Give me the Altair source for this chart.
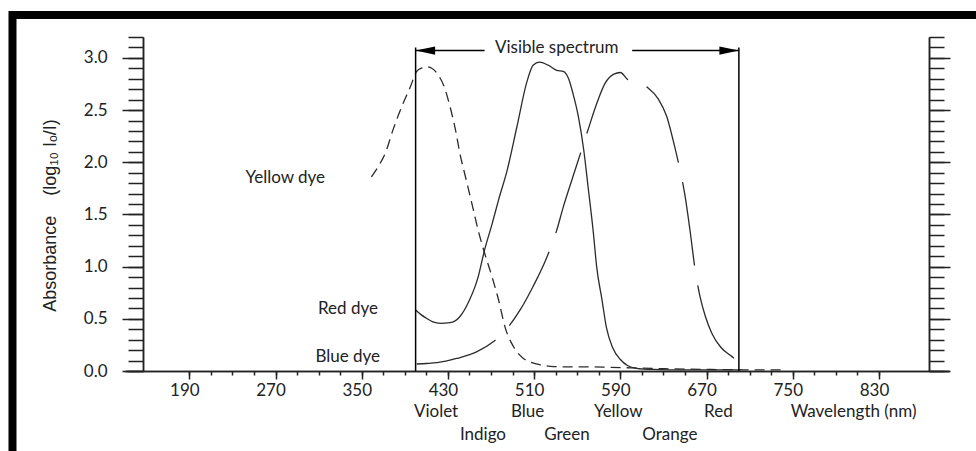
import altair as alt
import pandas as pd

# Absorbance (log10 Io/I) of the three dyes against wavelength (nm)
yellow_nm = [359, 366, 372, 379, 387, 395, 401, 406, 410, 415, 420, 427, 432, 437, 441, 447,
             453, 458, 464, 471, 477, 483, 491, 500, 508, 515, 525, 540, 560, 580, 600, 620,
             640, 670, 700, 720, 740]
yellow_abs = [1.86, 1.97, 2.09, 2.31, 2.53, 2.72, 2.87, 2.905, 2.915, 2.90, 2.85, 2.71, 2.53,
              2.31, 2.09, 1.83, 1.57, 1.35, 1.13, 0.90, 0.68, 0.42, 0.23, 0.12, 0.08, 0.06,
              0.045, 0.04, 0.04, 0.035, 0.03, 0.025, 0.02, 0.015, 0.012, 0.01, 0.01]

red_nm = [400, 405, 410, 416, 423, 432, 441, 450, 458, 464, 471, 477, 485, 494, 503, 509, 515,
          523, 531, 537, 542, 546, 551, 556, 560, 565, 568, 573, 577, 583, 590, 597, 605, 620,
          650, 700]
red_abs = [0.585, 0.54, 0.505, 0.47, 0.457, 0.463, 0.52, 0.68, 0.90, 1.16, 1.41, 1.64, 1.925,
           2.34, 2.76, 2.93, 2.96, 2.93, 2.88, 2.87, 2.80, 2.66, 2.44, 2.12, 1.77, 1.32, 1.0,
           0.68, 0.42, 0.22, 0.11, 0.05, 0.026, 0.015, 0.01, 0.01]

blue_nm = [401, 410, 420, 438, 457, 472, 485, 497, 509, 522, 531, 537, 545, 553, 560, 568, 576,
           584, 590, 597, 605, 616, 625, 633, 639, 644, 650, 655, 659, 664, 669, 675, 683, 692,
           700]
blue_abs = [0.067, 0.072, 0.08, 0.12, 0.185, 0.28, 0.41, 0.585, 0.81, 1.095, 1.35, 1.57, 1.83,
            2.085, 2.31, 2.56, 2.76, 2.845, 2.86, 2.79, 2.76, 2.71, 2.61, 2.44, 2.21, 1.99, 1.68,
            1.32, 1.0, 0.71, 0.52, 0.36, 0.23, 0.15, 0.09]

# Curve labels
dye_names = ["Yellow dye", "Red dye", "Blue dye"]
dye_label_nm = [316, 365, 367]
dye_label_abs = [1.85, 0.594, 0.134]

# Colour names printed under the wavelength axis (two staggered rows)
band_top_names = ["Violet", "Blue", "Yellow", "Red"]
band_top_nm = [419, 504, 588, 681]
band_bottom_names = ["Indigo", "Green", "Orange"]
band_bottom_nm = [462.5, 540.5, 636]
x_title = "Wavelength (nm)"
x_title_nm = 806.4

# Visible spectrum bracket
visible_nm = [400, 700]
visible_top = 3.1
arrow_abs = 3.07
arrow_segments_start = [400, 601]
arrow_segments_end = [464, 700]
visible_label = "Visible spectrum"
visible_label_nm = 531

# Tick positions
x_major = list(range(190, 831, 80))
x_minor = list(range(190, 831, 20))
y_major = [0.0, 0.5, 1.0, 1.5, 2.0, 2.5, 3.0]
y_minor = [round(0.1 * i, 1) for i in range(33)]

FONT = "Lato"
TITLE_FONT = "Liberation Sans"
FS = 17
INK = "#222222"
CURVE = "#2b2b2b"
NBSP = "\u00a0"

xs = alt.Scale(domain=[130.3, 895.0], nice=False, zero=False)
ys = alt.Scale(domain=[0, 3.2], nice=False, zero=False)

common_axis = dict(domainColor=INK, domainWidth=1.5, tickColor=INK, tickWidth=1.5, grid=False)

x_axis_major = alt.Axis(orient="bottom", values=x_major, tickSize=8, labelPadding=3,
                        labelOffset=-5, labelFont=FONT, labelFontSize=FS, labelColor=INK,
                        title=None, **common_axis)
x_axis_minor = alt.Axis(orient="bottom", values=x_minor, tickSize=4, labels=False, title=None,
                        **common_axis)
y_axis_left_major = alt.Axis(orient="left", offset=-18, values=y_major, format=".1f",
                             tickSize=21, labelPadding=15, labelFont=FONT, labelFontSize=FS,
                             labelColor=INK,
                             title="Absorbance" + NBSP * 4 + "(log\u2081\u2080 I\u2092/I)",
                             titleFont=TITLE_FONT, titleFontSize=18, titleFontWeight="normal",
                             titleColor=INK, titlePadding=24, titleY=178, **common_axis)
y_axis_left_minor = alt.Axis(orient="left", offset=-18, values=y_minor, tickSize=15,
                             labels=False, title=None, **common_axis)
y_axis_right_major = alt.Axis(orient="right", offset=-20, values=y_major, tickSize=21,
                              labels=False, title=None, **common_axis)
y_axis_right_minor = alt.Axis(orient="right", offset=-20, values=y_minor, tickSize=15,
                              labels=False, title=None, **common_axis)

yellow_df = pd.DataFrame({"nm": yellow_nm, "absorbance": yellow_abs})
red_df = pd.DataFrame({"nm": red_nm, "absorbance": red_abs})
blue_df = pd.DataFrame({"nm": blue_nm, "absorbance": blue_abs})

yellow_line = alt.Chart(yellow_df).mark_line(
    color=CURVE, strokeWidth=1.3, strokeDash=[10, 6], interpolate="monotone"
).encode(
    x=alt.X("nm:Q", scale=xs, axis=x_axis_major),
    y=alt.Y("absorbance:Q", scale=ys, axis=y_axis_left_major),
)

red_line = alt.Chart(red_df).mark_line(
    color=CURVE, strokeWidth=1.3, interpolate="monotone"
).encode(
    x=alt.X("nm:Q", scale=xs, axis=x_axis_minor),
    y=alt.Y("absorbance:Q", scale=ys, axis=y_axis_left_minor),
)

blue_line = alt.Chart(blue_df).mark_line(
    color=CURVE, strokeWidth=1.3, strokeDash=[84, 20], interpolate="monotone"
).encode(
    x=alt.X("nm:Q", scale=xs, axis=None),
    y=alt.Y("absorbance:Q", scale=ys, axis=y_axis_right_major),
)

visible_df = pd.DataFrame({"nm": visible_nm, "lo": [0.0, 0.0], "hi": [visible_top] * 2})
visible_rules = alt.Chart(visible_df).mark_rule(color="black", strokeWidth=1.5).encode(
    x=alt.X("nm:Q", scale=xs, axis=None),
    y=alt.Y("lo:Q", scale=ys, axis=y_axis_right_minor),
    y2="hi:Q",
)

arrow_df = pd.DataFrame({"start": arrow_segments_start, "end": arrow_segments_end,
                         "a": [arrow_abs] * 2})
arrow_lines = alt.Chart(arrow_df).mark_rule(color="black", strokeWidth=1.5).encode(
    x=alt.X("start:Q", scale=xs, axis=None),
    x2="end:Q",
    y=alt.Y("a:Q", scale=ys, axis=None),
)

head_df = pd.DataFrame({"nm": visible_nm, "a": [arrow_abs] * 2, "dir": ["left", "right"]})
arrow_heads = alt.Chart(head_df).mark_point(filled=True, opacity=1, color="black").encode(
    x=alt.X("nm:Q", scale=xs, axis=None),
    y=alt.Y("a:Q", scale=ys, axis=None),
    shape=alt.Shape("dir:N", scale=alt.Scale(domain=["left", "right"],
                                             range=["M0,0L2,-0.42L2,0.42Z",
                                                    "M0,0L-2,-0.42L-2,0.42Z"]),
                    legend=None),
    size=alt.value(380),
)

visible_text = alt.Chart(pd.DataFrame({"nm": [visible_label_nm], "a": [arrow_abs + 0.02],
                                       "t": [visible_label]})).mark_text(
    font=FONT, fontSize=FS, color=INK, baseline="middle", align="center"
).encode(
    x=alt.X("nm:Q", scale=xs, axis=None),
    y=alt.Y("a:Q", scale=ys, axis=None),
    text="t:N",
)

dye_df = pd.DataFrame({"nm": dye_label_nm, "a": dye_label_abs, "t": dye_names})
dye_text = alt.Chart(dye_df).mark_text(
    font=FONT, fontSize=FS, color=INK, baseline="middle", align="right"
).encode(
    x=alt.X("nm:Q", scale=xs, axis=None),
    y=alt.Y("a:Q", scale=ys, axis=None),
    text="t:N",
)

top_df = pd.DataFrame({"nm": band_top_nm + [x_title_nm], "t": band_top_names + [x_title]})
band_top = alt.Chart(top_df).mark_text(
    font=FONT, fontSize=FS, color=INK, baseline="middle", align="center"
).encode(
    x=alt.X("nm:Q", scale=xs, axis=None),
    y=alt.value(375),
    text="t:N",
)

bottom_df = pd.DataFrame({"nm": band_bottom_nm, "t": band_bottom_names})
band_bottom = alt.Chart(bottom_df).mark_text(
    font=FONT, fontSize=FS, color=INK, baseline="middle", align="center"
).encode(
    x=alt.X("nm:Q", scale=xs, axis=None),
    y=alt.value(398),
    text="t:N",
)

# Heavy black frame around the figure
frame = alt.Chart(pd.DataFrame({"k": [0]})).mark_rect(
    fillOpacity=0, stroke="black", strokeWidth=8
).encode(
    x=alt.value(-112.5), x2=alt.value(900), y=alt.value(-22), y2=alt.value(419),
)

chart = alt.layer(
    yellow_line, red_line, blue_line, visible_rules, arrow_lines, arrow_heads,
    visible_text, dye_text, band_top, band_bottom, frame,
).resolve_axis(
    x="independent", y="independent"
).properties(
    width=824, height=334,
    autosize=alt.AutoSizeParams(type="none"),
    padding={"left": 125, "top": 37, "right": 27, "bottom": 80},
    background="white",
).configure_view(stroke=None)

chart.save("out.html", embed_options={"renderer": "svg", "actions": False})
